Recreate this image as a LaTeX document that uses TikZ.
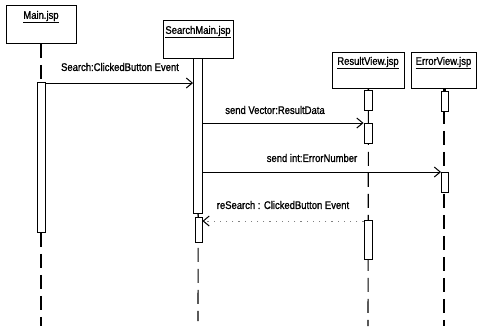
\documentclass[tikz,border=0pt]{standalone}
\usepackage{fontspec}
\setmainfont{Liberation Sans}[FakeStretch=0.86,FakeBold=1.2]
\usetikzlibrary{arrows.meta}
\begin{document}
\begin{tikzpicture}[x=1pt,y=-1pt,
  font=\fontsize{11}{12}\selectfont,
  obj/.style={draw, line width=0.9pt, inner sep=0pt, anchor=north west},
  act/.style={draw, fill=white, line width=0.9pt, inner sep=0pt, minimum width=8, anchor=north},
  life/.style={line width=1.1pt, dash pattern=on 14pt off 7pt},
  solidlink/.style={line width=0.9pt},
  msg/.style={line width=0.9pt, -{Straight Barb[length=6pt,width=10pt,line width=1pt]}},
  ret/.style={line width=0.8pt, gray, dash pattern=on 1.2pt off 5pt, -{Straight Barb[length=6pt,width=10pt,line width=1pt,black]}},
  lbl/.style={inner sep=0pt, anchor=center}
]
\useasboundingbox (0,0) rectangle (477,330);
% object boxes
\node[obj, minimum width=70, minimum height=38] (main) at (6,5) {};
\node[obj, minimum width=70, minimum height=38] (smain) at (163,20) {};
\node[obj, minimum width=72, minimum height=36] (rview) at (332,52) {};
\node[obj, minimum width=65, minimum height=36] (eview) at (411,52) {};
\node[lbl] (tmain) at (41,17) {\underline{Main.jsp}};
\node[lbl] (tsmain) at (198,32) {\underline{SearchMain.jsp}};
\node[lbl] (trview) at (368,63) {\underline{ResultView.jsp}};
\node[lbl] (teview) at (443.5,63) {\underline{ErrorView.jsp}};
% lifeline ends
\coordinate (mainEnd) at (41,326);
\coordinate (smainEnd) at (198,321);
\coordinate (rviewEnd) at (368,326);
\coordinate (eviewEnd) at (444,326);
\draw[life] (main.south -| mainEnd) -- (mainEnd);
\draw[life] (smain.south) -- (smainEnd);
\draw[life] (rview.south) -- (rviewEnd);
\draw[life] (eview.south -| eviewEnd) -- (eviewEnd);
% activations
\node[act, minimum height=150] (amain) at (41,82) {};
\node[act, minimum width=9, minimum height=155] (asm1) at (198,58) {};
\node[act, minimum width=7, minimum height=25] (asm2) at (198.5,217) {};
\node[act, minimum height=20] (arv0) at (368,90) {};
\node[act, minimum height=20] (arv1) at (368,123) {};
\node[act, minimum height=39] (arv2) at (368,220) {};
\node[act, minimum width=7, minimum height=20] (aev0) at (445,91) {};
\node[act, minimum width=7, minimum height=20] (aev1) at (445,172) {};
% solid short links
\draw[solidlink] (rview.south) -- (arv0.north);
\draw[solidlink] (eview.south -| aev0.north) -- (aev0.north);
\draw[solidlink] (asm1.south) -- (asm2.north);
% messages
\draw[msg] (amain.north east |- 0,83) coordinate (m1s) -- (asm1.west |- m1s);
\node[lbl] (l1) at (120,67) {Search:ClickedButton Event};
\draw[msg] (asm1.east |- arv1.north) -- (arv1.north west);
\node[lbl] (l2) at (275,110) {send Vector:ResultData};
\draw[msg] (asm1.east |- aev1.north) -- (aev1.north west);
\node[lbl] (l3) at (312,158) {send int:ErrorNumber};
\draw[ret] (arv2.west |- 0,221) coordinate (m4s) -- (asm2.east |- m4s);
\node[lbl] (l4) at (283,205) {reSearch : ClickedButton Event};
\end{tikzpicture}
\end{document}
